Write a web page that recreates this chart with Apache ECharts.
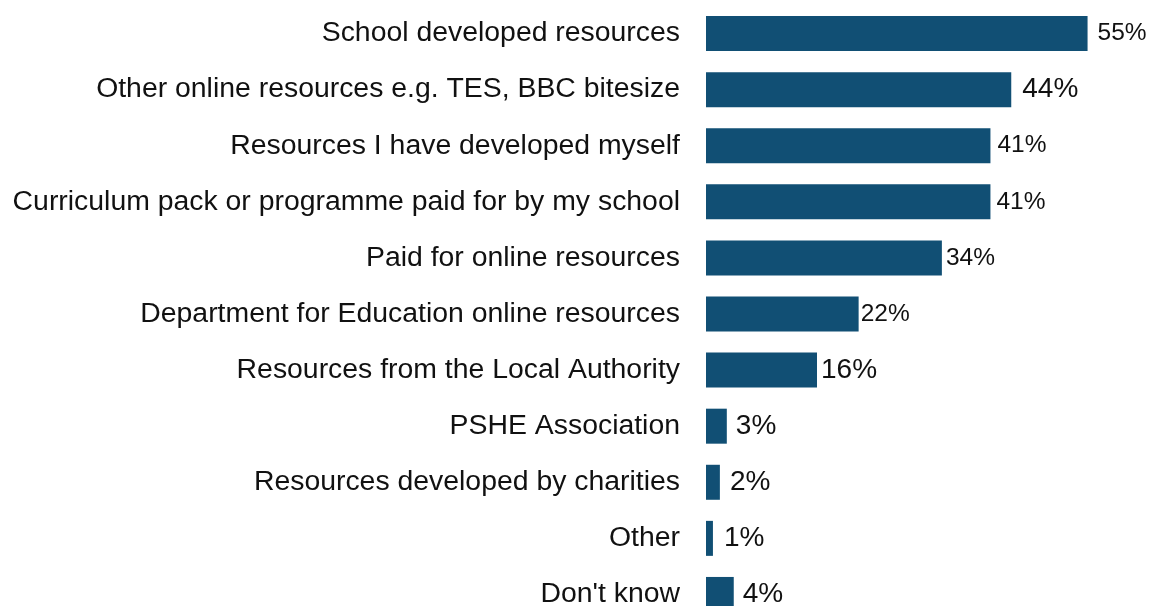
<!DOCTYPE html>
<html>
<head>
<meta charset="utf-8">
<script src="https://cdn.jsdelivr.net/npm/echarts@6/dist/echarts.min.js"></script>
<style>
  html, body { margin: 0; padding: 0; background: #ffffff; overflow: hidden; }
  #chart { width: 1150px; height: 624px; }
</style>
</head>
<body>
<div id="chart"></div>
<script>
// Sources of teaching resources used (% of respondents)
const categories = [
  "School developed resources",
  "Other online resources e.g. TES, BBC bitesize",
  "Resources I have developed myself",
  "Curriculum pack or programme paid for by my school",
  "Paid for online resources",
  "Department for Education online resources",
  "Resources from the Local Authority",
  "PSHE Association",
  "Resources developed by charities",
  "Other",
  "Don't know"
];
const values = [55, 44, 41, 41, 34, 22, 16, 3, 2, 1, 4];

// Per-bar label look: [font size, gap from bar end]
const labelLook = [
  [24.5, 10], [28, 11], [24.5, 7], [24.5, 6], [24.5, 4], [24.5, 2],
  [28, 4], [28, 9], [28, 10], [28, 11], [28, 9]
];

const BAR = '#114f74';
const FONT = 'Liberation Sans, Arial, sans-serif';

const chart = echarts.init(document.getElementById('chart'), null, { renderer: 'canvas' });

const seriesData = values.map((v, i) => ({
  value: v,
  label: {
    fontSize: labelLook[i][0],
    distance: labelLook[i][1]
  }
}));

chart.setOption({
  animation: false,
  backgroundColor: '#ffffff',
  grid: { left: 706, top: 5.5, width: 444, height: 617, containLabel: false },
  xAxis: {
    type: 'value',
    min: 0,
    max: 64,
    show: false
  },
  yAxis: {
    type: 'category',
    data: categories,
    inverse: true,
    axisLine: { show: false },
    axisTick: { show: false },
    axisLabel: {
      color: '#111111',
      fontFamily: FONT,
      fontSize: 28.4,
      margin: 26
    }
  },
  series: [{
    type: 'bar',
    data: seriesData,
    barWidth: 35,
    itemStyle: { color: BAR },
    label: {
      show: true,
      position: 'right',
      color: '#111111',
      fontFamily: FONT,
      formatter: p => p.value + '%'
    }
  }]
});
</script>
</body>
</html>
